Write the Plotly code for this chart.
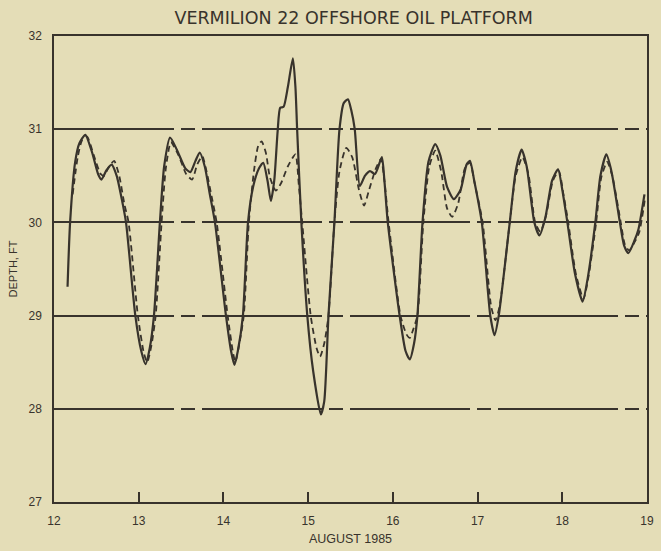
import plotly.graph_objects as go

# Water depth record, August 1985 (day of month, depth in feet)
solid_day = [12.16, 12.19, 12.25, 12.30, 12.37, 12.45, 12.52, 12.56, 12.62, 12.68,
             12.74, 12.80, 12.85, 12.96, 13.03, 13.08, 13.13, 13.18, 13.25, 13.30,
             13.37, 13.45, 13.55, 13.61, 13.67, 13.72, 13.78, 13.84, 13.90, 14.03,
             14.09, 14.13, 14.17, 14.23, 14.29, 14.35, 14.42, 14.47, 14.52, 14.56,
             14.60, 14.64, 14.67, 14.71, 14.76, 14.82, 14.85, 14.87, 14.92, 14.99,
             15.06, 15.15, 15.19, 15.24, 15.31, 15.37, 15.42, 15.47, 15.51, 15.55,
             15.61, 15.67, 15.73, 15.79, 15.87, 15.90, 15.94, 16.08, 16.15, 16.20,
             16.25, 16.29, 16.35, 16.42, 16.50, 16.56, 16.64, 16.72, 16.80, 16.87,
             16.91, 16.96, 17.05, 17.15, 17.20, 17.25, 17.38, 17.45, 17.52, 17.58,
             17.67, 17.73, 17.80, 17.88, 17.95, 18.00, 18.06, 18.15, 18.24, 18.30,
             18.39, 18.45, 18.52, 18.58, 18.68, 18.73, 18.78, 18.85, 18.90, 18.97]
solid_depth = [29.31, 30.00, 30.65, 30.85, 30.94, 30.75, 30.52, 30.46, 30.56, 30.62,
               30.50, 30.25, 30.00, 29.00, 28.62, 28.48, 28.65, 29.00, 30.00, 30.60,
               30.91, 30.78, 30.58, 30.54, 30.66, 30.75, 30.60, 30.30, 30.00, 29.00,
               28.62, 28.47, 28.62, 29.00, 30.00, 30.38, 30.58, 30.64, 30.45, 30.23,
               30.45, 30.98, 31.23, 31.24, 31.45, 31.76, 31.45, 31.00, 30.00, 29.00,
               28.40, 27.94, 28.08, 29.00, 30.00, 31.00, 31.28, 31.32, 31.20, 31.00,
               30.39, 30.50, 30.55, 30.52, 30.70, 30.45, 30.00, 29.00, 28.62, 28.53,
               28.70, 29.00, 30.00, 30.65, 30.84, 30.72, 30.38, 30.25, 30.35, 30.62,
               30.66, 30.45, 30.00, 29.00, 28.79, 29.00, 30.00, 30.55, 30.78, 30.60,
               30.00, 29.86, 30.05, 30.45, 30.57, 30.35, 30.00, 29.45, 29.15, 29.40,
               30.00, 30.50, 30.73, 30.55, 30.00, 29.75, 29.67, 29.80, 29.93, 30.30]

dashed_day = [12.22, 12.28, 12.33, 12.39, 12.47, 12.55, 12.59, 12.65, 12.71, 12.77,
              12.83, 12.88, 12.99, 13.06, 13.10, 13.15, 13.20, 13.27, 13.32, 13.38,
              13.47, 13.56, 13.63, 13.69, 13.75, 13.80, 13.86, 13.92, 14.05, 14.11,
              14.14, 14.18, 14.24, 14.30, 14.36, 14.41, 14.45, 14.50, 14.55, 14.62,
              14.68, 14.76, 14.85, 14.89, 14.93, 15.03, 15.10, 15.14, 15.19, 15.24,
              15.31, 15.37, 15.45, 15.52, 15.60, 15.66, 15.72, 15.80, 15.86, 15.90,
              15.95, 16.09, 16.16, 16.20, 16.24, 16.29, 16.36, 16.43, 16.50, 16.57,
              16.64, 16.70, 16.77, 16.85, 16.91, 16.97, 17.06, 17.16, 17.21, 17.26,
              17.38, 17.45, 17.53, 17.60, 17.68, 17.74, 17.81, 17.89, 17.96, 18.01,
              18.07, 18.16, 18.25, 18.31, 18.40, 18.46, 18.53, 18.59, 18.69, 18.74,
              18.79, 18.86, 18.91, 18.98]
dashed_depth = [30.30, 30.70, 30.88, 30.92, 30.72, 30.52, 30.50, 30.60, 30.66, 30.50,
                30.20, 30.00, 29.00, 28.60, 28.50, 28.68, 29.00, 30.00, 30.58, 30.86,
                30.72, 30.52, 30.46, 30.62, 30.71, 30.55, 30.28, 30.00, 29.00, 28.62,
                28.50, 28.66, 29.00, 30.00, 30.55, 30.82, 30.87, 30.75, 30.48, 30.34,
                30.42, 30.60, 30.73, 30.40, 30.00, 29.00, 28.65, 28.56, 28.70, 29.00,
                30.00, 30.55, 30.80, 30.70, 30.35, 30.18, 30.35, 30.58, 30.68, 30.45,
                30.00, 29.00, 28.80, 28.76, 28.85, 29.00, 30.00, 30.60, 30.77, 30.55,
                30.15, 30.06, 30.20, 30.58, 30.64, 30.40, 30.00, 29.10, 28.95, 29.10,
                30.00, 30.50, 30.70, 30.52, 30.00, 29.90, 30.08, 30.45, 30.55, 30.32,
                30.00, 29.45, 29.18, 29.42, 30.00, 30.48, 30.65, 30.50, 30.00, 29.76,
                29.70, 29.80, 29.90, 30.28]

x_ticks = [12, 13, 14, 15, 16, 17, 18, 19]
y_ticks = [27, 28, 29, 30, 31, 32]

ink = "#38332c"
paper = "#e4ddb7"
font = "Liberation Sans, Arial, sans-serif"

fig = go.Figure()
fig.add_trace(go.Scatter(
    x=dashed_day, y=dashed_depth, mode="lines",
    line=dict(color=ink, width=1.8, dash="6px,4px", shape="spline", smoothing=0.6),
    showlegend=False, hoverinfo="skip"))
fig.add_trace(go.Scatter(
    x=solid_day, y=solid_depth, mode="lines",
    line=dict(color=ink, width=2.2, shape="spline", smoothing=0.6),
    showlegend=False, hoverinfo="skip"))

fig.update_layout(
    width=661, height=551,
    margin=dict(l=54, r=7, t=36, b=46),
    paper_bgcolor=paper, plot_bgcolor=paper,
    font=dict(family=font, color=ink, size=12),
    title=dict(text="VERMILION 22 OFFSHORE OIL PLATFORM",
               x=0.535, xanchor="center", y=0.968, yanchor="middle",
               font=dict(size=17.5, family="DejaVu Sans, sans-serif", color=ink)),
    xaxis=dict(range=[12, 19], tickvals=x_ticks, ticktext=[str(t) for t in x_ticks],
               ticks="inside", ticklen=10, tickwidth=1.5, tickcolor=ink,
               showline=True, mirror=True, linecolor=ink, linewidth=1.5,
               showgrid=False, zeroline=False, ticklabelstandoff=7,
               tickfont=dict(size=12),
               title=dict(text="AUGUST 1985", standoff=7, font=dict(size=12.5))),
    yaxis=dict(range=[27, 32], tickvals=y_ticks, ticktext=[str(t) for t in y_ticks],
               ticks="", showline=True, mirror=True, linecolor=ink, linewidth=1.5,
               showgrid=True, gridcolor=ink, gridwidth=1.5,
               griddash="120px,7px,14px,7px",
               zeroline=False, ticklabelstandoff=8, tickfont=dict(size=12),
               title=dict(text="DEPTH, FT", standoff=9, font=dict(size=11))),
)

fig.write_html("out.html")
